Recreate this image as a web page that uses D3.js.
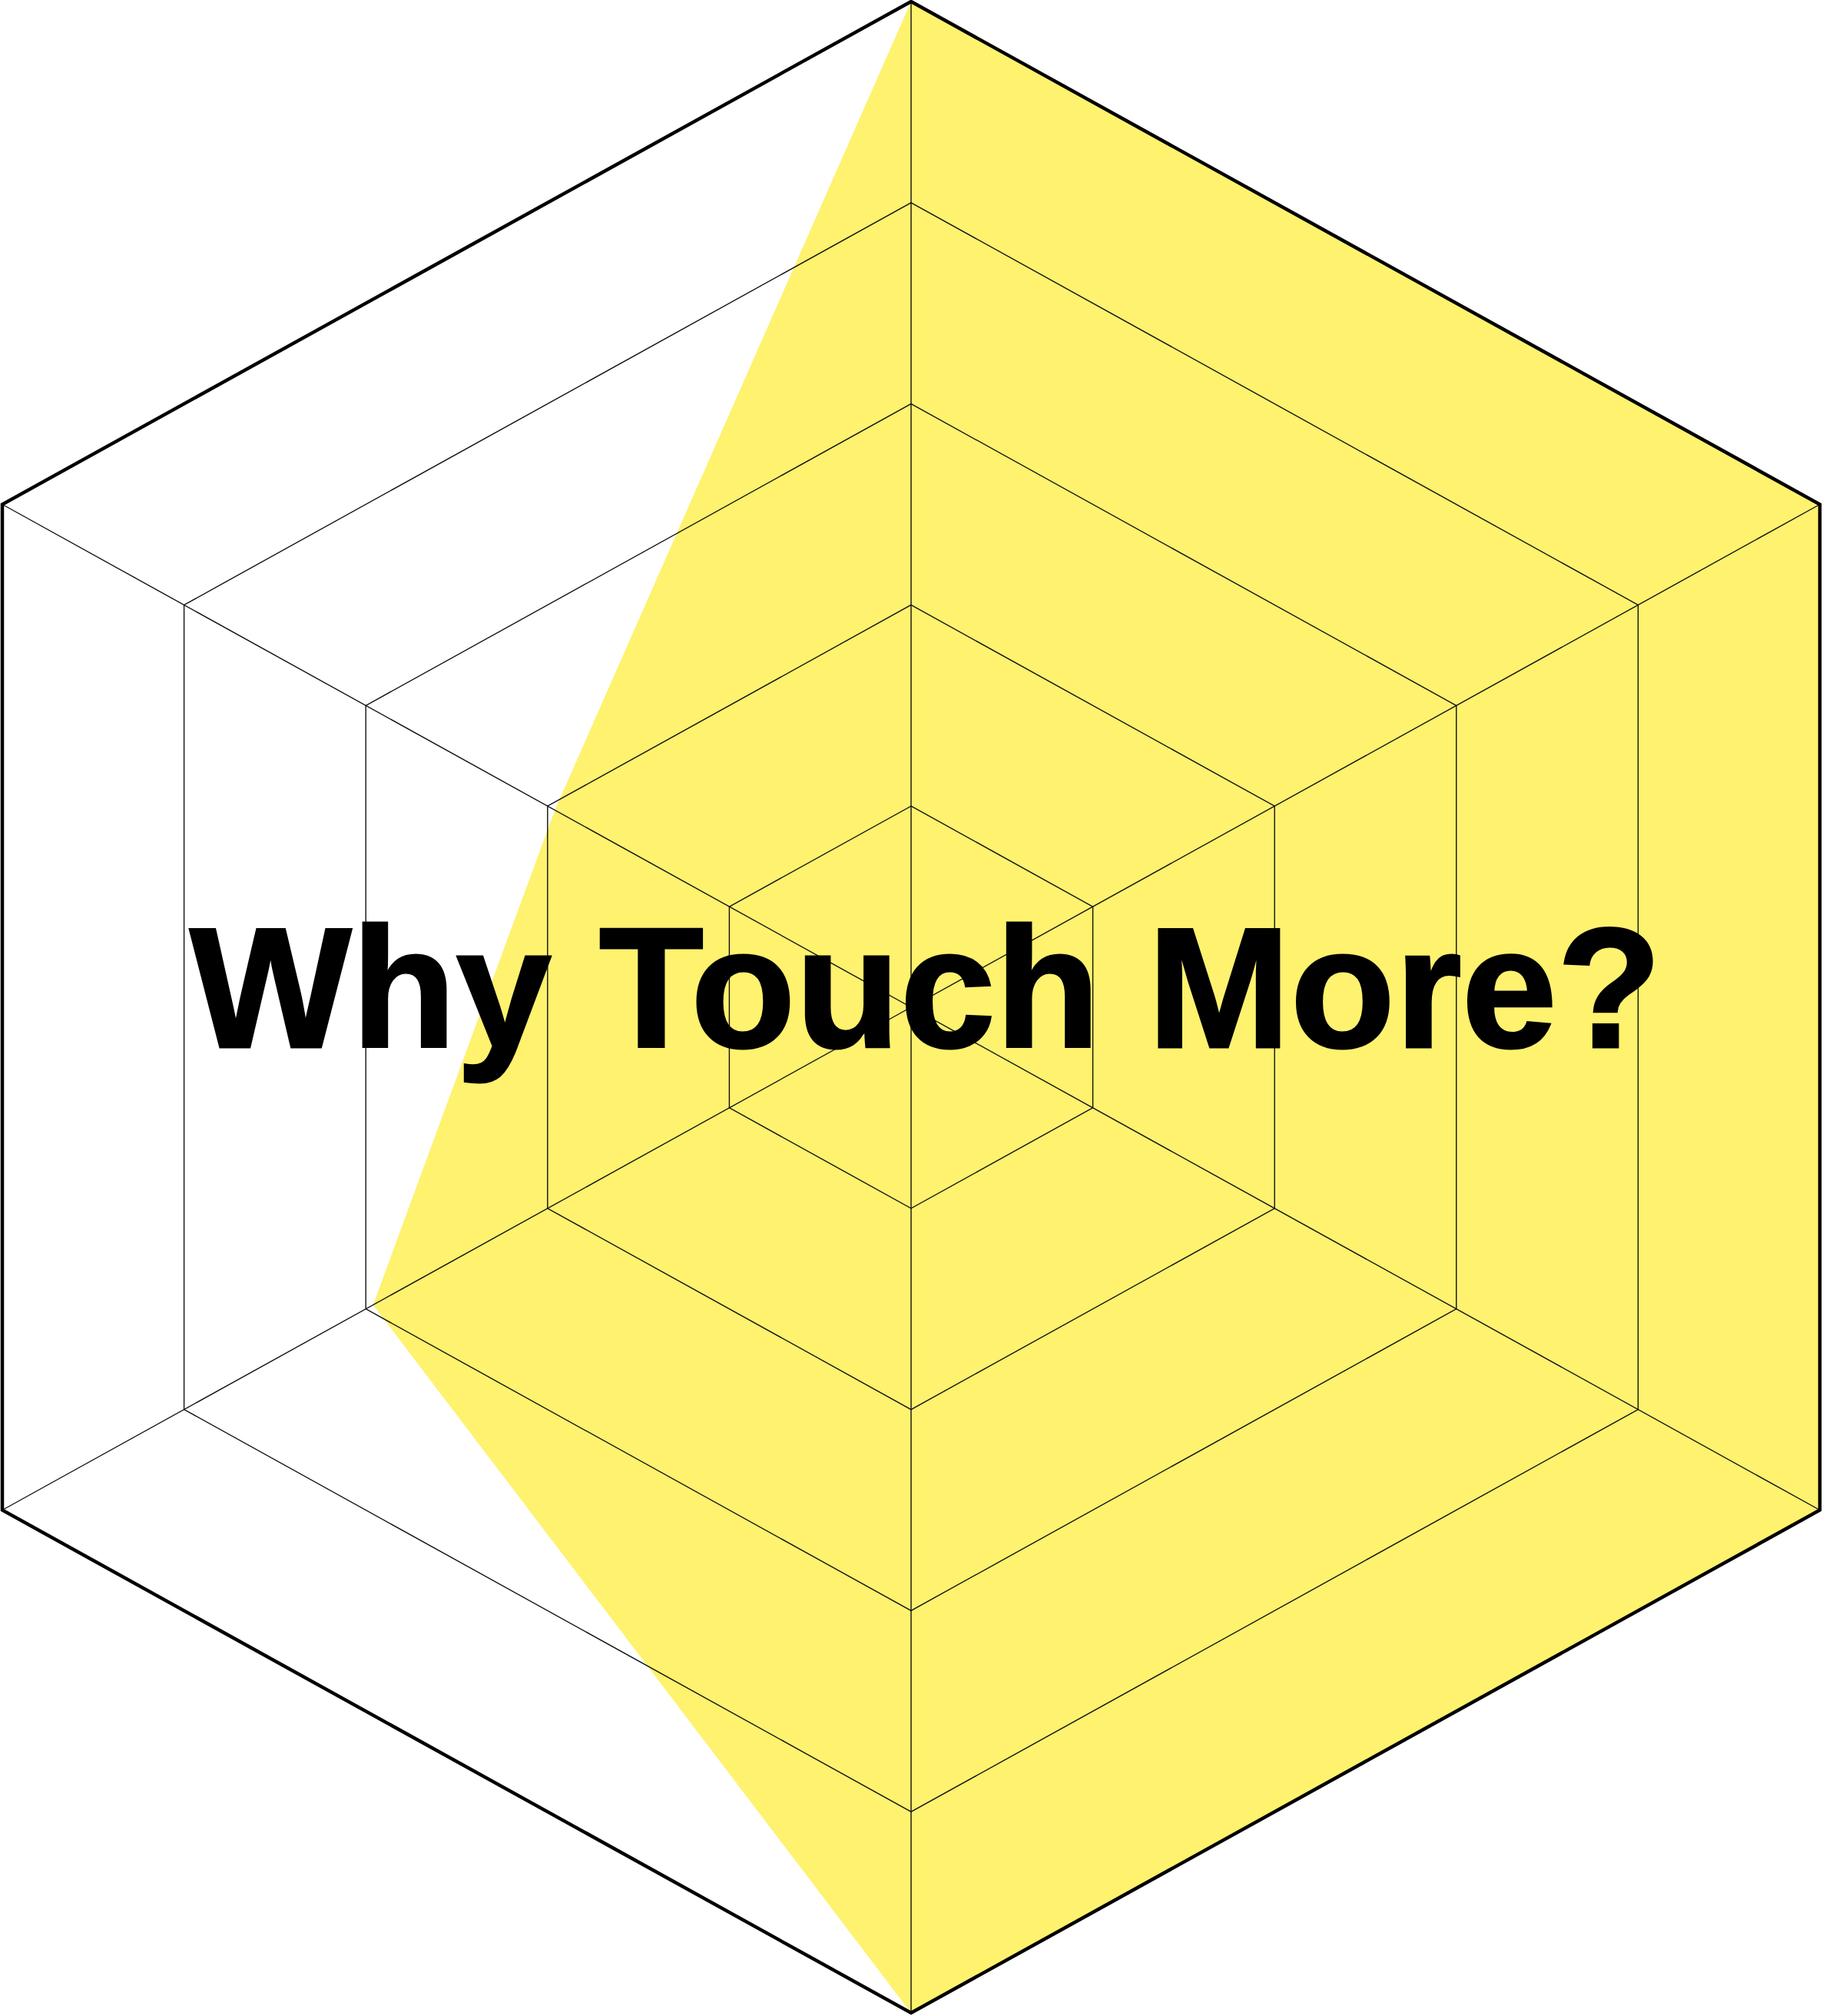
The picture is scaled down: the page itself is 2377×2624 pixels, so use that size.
<!DOCTYPE html>
<html>
<head>
<meta charset="utf-8">
<script src="https://cdn.jsdelivr.net/npm/d3@7"></script>
<style>
  html, body { margin: 0; padding: 0; background: #ffffff; }
  svg { display: block; }
</style>
</head>
<body>
<svg id="chart" width="2377" height="2624"></svg>
<script>
// ---- data ----
const axes = ["A", "B", "C", "D", "E", "F"]; // top, upper-right, lower-right, bottom, lower-left, upper-left
const values = [5, 5, 5, 5, 2.96, 1.96];
const levels = [1, 2, 3, 4, 5];
const maxValue = 5;
const title = "Why Touch More?";

// ---- layout ----
const W = 2377, H = 2624;
const cx = 1186, cy = 1311;
const rY = 1309;           // vertical radius
const rX = 1183;           // horizontal reach of side vertices
const kx = rX / (rY * Math.cos(Math.PI / 6));

const svg = d3.select("#chart");
const r = d3.scaleLinear().domain([0, maxValue]).range([0, rY]);
const angle = d3.scaleLinear().domain([0, axes.length]).range([0, 2 * Math.PI]);

function pt(i, v) {
  const a = angle(i);
  return [cx + r(v) * Math.sin(a) * kx, cy - r(v) * Math.cos(a)];
}

const line = d3.line().curve(d3.curveLinearClosed);

// data area
svg.append("path")
  .attr("d", line(values.map((v, i) => pt(i, v))))
  .attr("fill", "#fef26f")
  .attr("stroke", "none");

// grid rings
svg.append("g").selectAll("path")
  .data(levels.filter(l => l < maxValue))
  .join("path")
  .attr("d", l => line(axes.map((_, i) => pt(i, l))))
  .attr("fill", "none")
  .attr("stroke", "#111")
  .attr("stroke-width", 1.4);

// spokes
svg.append("g").selectAll("line")
  .data(axes)
  .join("line")
  .attr("x1", cx).attr("y1", cy)
  .attr("x2", (_, i) => pt(i, maxValue)[0])
  .attr("y2", (_, i) => pt(i, maxValue)[1])
  .attr("stroke", "#111")
  .attr("stroke-width", 1.4);

// outer border
svg.append("path")
  .attr("d", line(axes.map((_, i) => pt(i, maxValue))))
  .attr("fill", "none")
  .attr("stroke", "#000")
  .attr("stroke-width", 4.5)
  .attr("stroke-linejoin", "miter");

// title
svg.append("text")
  .attr("x", 1205)
  .attr("y", 1363)
  .attr("text-anchor", "middle")
  .attr("font-family", "'Liberation Sans', Arial, Helvetica, sans-serif")
  .attr("font-weight", "bold")
  .attr("font-size", 223)
  .attr("fill", "#000")
  .attr("stroke", "#000")
  .attr("stroke-width", 3)
  .attr("stroke-linejoin", "miter")
  .text(title);
</script>
</body>
</html>
